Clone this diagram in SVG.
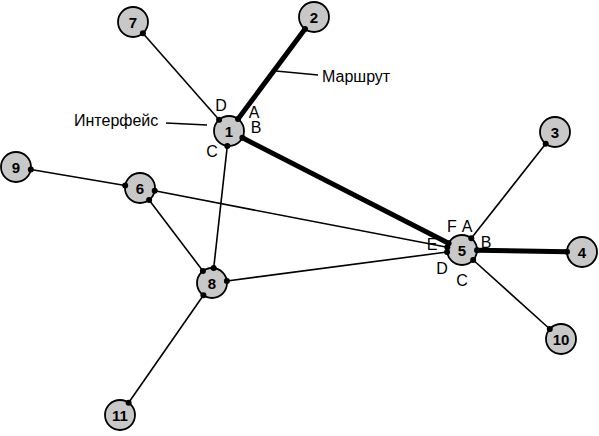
<svg xmlns="http://www.w3.org/2000/svg" width="599" height="436" viewBox="0 0 599 436">
<defs>
<style>
.thin{stroke:#000;stroke-width:1.6;fill:none}
.thick{stroke:#000;stroke-width:5;fill:none}
.lead{stroke:#000;stroke-width:1.4;fill:none}
.node circle{fill:#c8c8c8;stroke:#000;stroke-width:1.8}
.node text{font-family:"Liberation Sans",Arial,sans-serif;font-weight:bold;font-size:15px;text-anchor:middle;fill:#000}
.lbl{font-family:"Liberation Sans",Arial,sans-serif;font-size:16px;fill:#000}
.port{font-family:"Liberation Sans",Arial,sans-serif;font-size:16px;fill:#000;text-anchor:middle}
.dot{fill:#000}
</style>
</defs>
<g id="connectors">
<line class="thin" x1="142.9" y1="33.3" x2="219.1" y2="119.7"/>
<line class="thick" x1="305" y1="29" x2="238" y2="119"/>
<line class="thick" x1="242.4" y1="137.8" x2="448.6" y2="243.2"/>
<line class="thin" x1="227.3" y1="145.9" x2="213.7" y2="268.1"/>
<line class="thin" x1="30.8" y1="169.5" x2="125.2" y2="185.5"/>
<line class="thin" x1="154.7" y1="190.8" x2="447.3" y2="247.2"/>
<line class="thin" x1="149.1" y1="200" x2="202.9" y2="271"/>
<line class="thin" x1="226.9" y1="281" x2="447.1" y2="252"/>
<line class="thin" x1="203.4" y1="295.3" x2="128.6" y2="402.7"/>
<line class="thin" x1="471.3" y1="238.2" x2="545.7" y2="143.8"/>
<line class="thick" x1="477" y1="250.3" x2="567" y2="251.7"/>
<line class="thin" x1="473.2" y1="260" x2="549.8" y2="329"/>
<line class="lead" x1="276" y1="71" x2="318" y2="75"/>
<line class="lead" x1="166" y1="123" x2="207" y2="125"/>
</g>
<g id="node1" class="node"><circle cx="229" cy="131" r="15"/><text x="229" y="136.5">1</text></g>
<g id="node2" class="node"><circle cx="314" cy="17" r="15"/><text x="314" y="22.5">2</text></g>
<g id="node3" class="node"><circle cx="555" cy="132" r="15"/><text x="555" y="137.5">3</text></g>
<g id="node4" class="node"><circle cx="582" cy="252" r="15"/><text x="582" y="257.5">4</text></g>
<g id="node5" class="node"><circle cx="462" cy="250" r="15"/><text x="462" y="255.5">5</text></g>
<g id="node6" class="node"><circle cx="140" cy="188" r="15"/><text x="140" y="193.5">6</text></g>
<g id="node7" class="node"><circle cx="133" cy="22" r="15"/><text x="133" y="27.5">7</text></g>
<g id="node8" class="node"><circle cx="212" cy="283" r="15"/><text x="212" y="288.5">8</text></g>
<g id="node9" class="node"><circle cx="16" cy="167" r="15"/><text x="16" y="172.5">9</text></g>
<g id="node10" class="node"><circle cx="561" cy="339" r="15"/><text x="561" y="344.5">10</text></g>
<g id="node11" class="node"><circle cx="120" cy="415" r="15"/><text x="120" y="420.5">11</text></g>
<g id="ports">
<circle class="dot" cx="142.9" cy="33.3" r="3"/>
<circle class="dot" cx="219.1" cy="119.7" r="3"/>
<circle class="dot" cx="305" cy="29" r="3"/>
<circle class="dot" cx="238" cy="119" r="3"/>
<circle class="dot" cx="242.4" cy="137.8" r="3"/>
<circle class="dot" cx="448.6" cy="243.2" r="3"/>
<circle class="dot" cx="227.3" cy="145.9" r="3"/>
<circle class="dot" cx="213.7" cy="268.1" r="3"/>
<circle class="dot" cx="30.8" cy="169.5" r="3"/>
<circle class="dot" cx="125.2" cy="185.5" r="3"/>
<circle class="dot" cx="154.7" cy="190.8" r="3"/>
<circle class="dot" cx="447.3" cy="247.2" r="3"/>
<circle class="dot" cx="149.1" cy="200" r="3"/>
<circle class="dot" cx="202.9" cy="271" r="3"/>
<circle class="dot" cx="226.9" cy="281" r="3"/>
<circle class="dot" cx="447.1" cy="252" r="3"/>
<circle class="dot" cx="203.4" cy="295.3" r="3"/>
<circle class="dot" cx="128.6" cy="402.7" r="3"/>
<circle class="dot" cx="471.3" cy="238.2" r="3"/>
<circle class="dot" cx="545.7" cy="143.8" r="3"/>
<circle class="dot" cx="477" cy="250.3" r="3"/>
<circle class="dot" cx="567" cy="251.7" r="3"/>
<circle class="dot" cx="473.2" cy="260" r="3"/>
<circle class="dot" cx="549.8" cy="329" r="3"/>
</g>
<g id="labels">
<text class="lbl" x="322" y="82">Маршрут</text>
<text class="lbl" x="74" y="126">Интерфейс</text>
<text class="port" x="221" y="111">D</text>
<text class="port" x="254" y="118">A</text>
<text class="port" x="256" y="133">B</text>
<text class="port" x="212" y="157">C</text>
<text class="port" x="452" y="232">F</text>
<text class="port" x="467" y="232">A</text>
<text class="port" x="486" y="248">B</text>
<text class="port" x="432" y="250">E</text>
<text class="port" x="442" y="274">D</text>
<text class="port" x="462" y="286">C</text>
</g>
</svg>
